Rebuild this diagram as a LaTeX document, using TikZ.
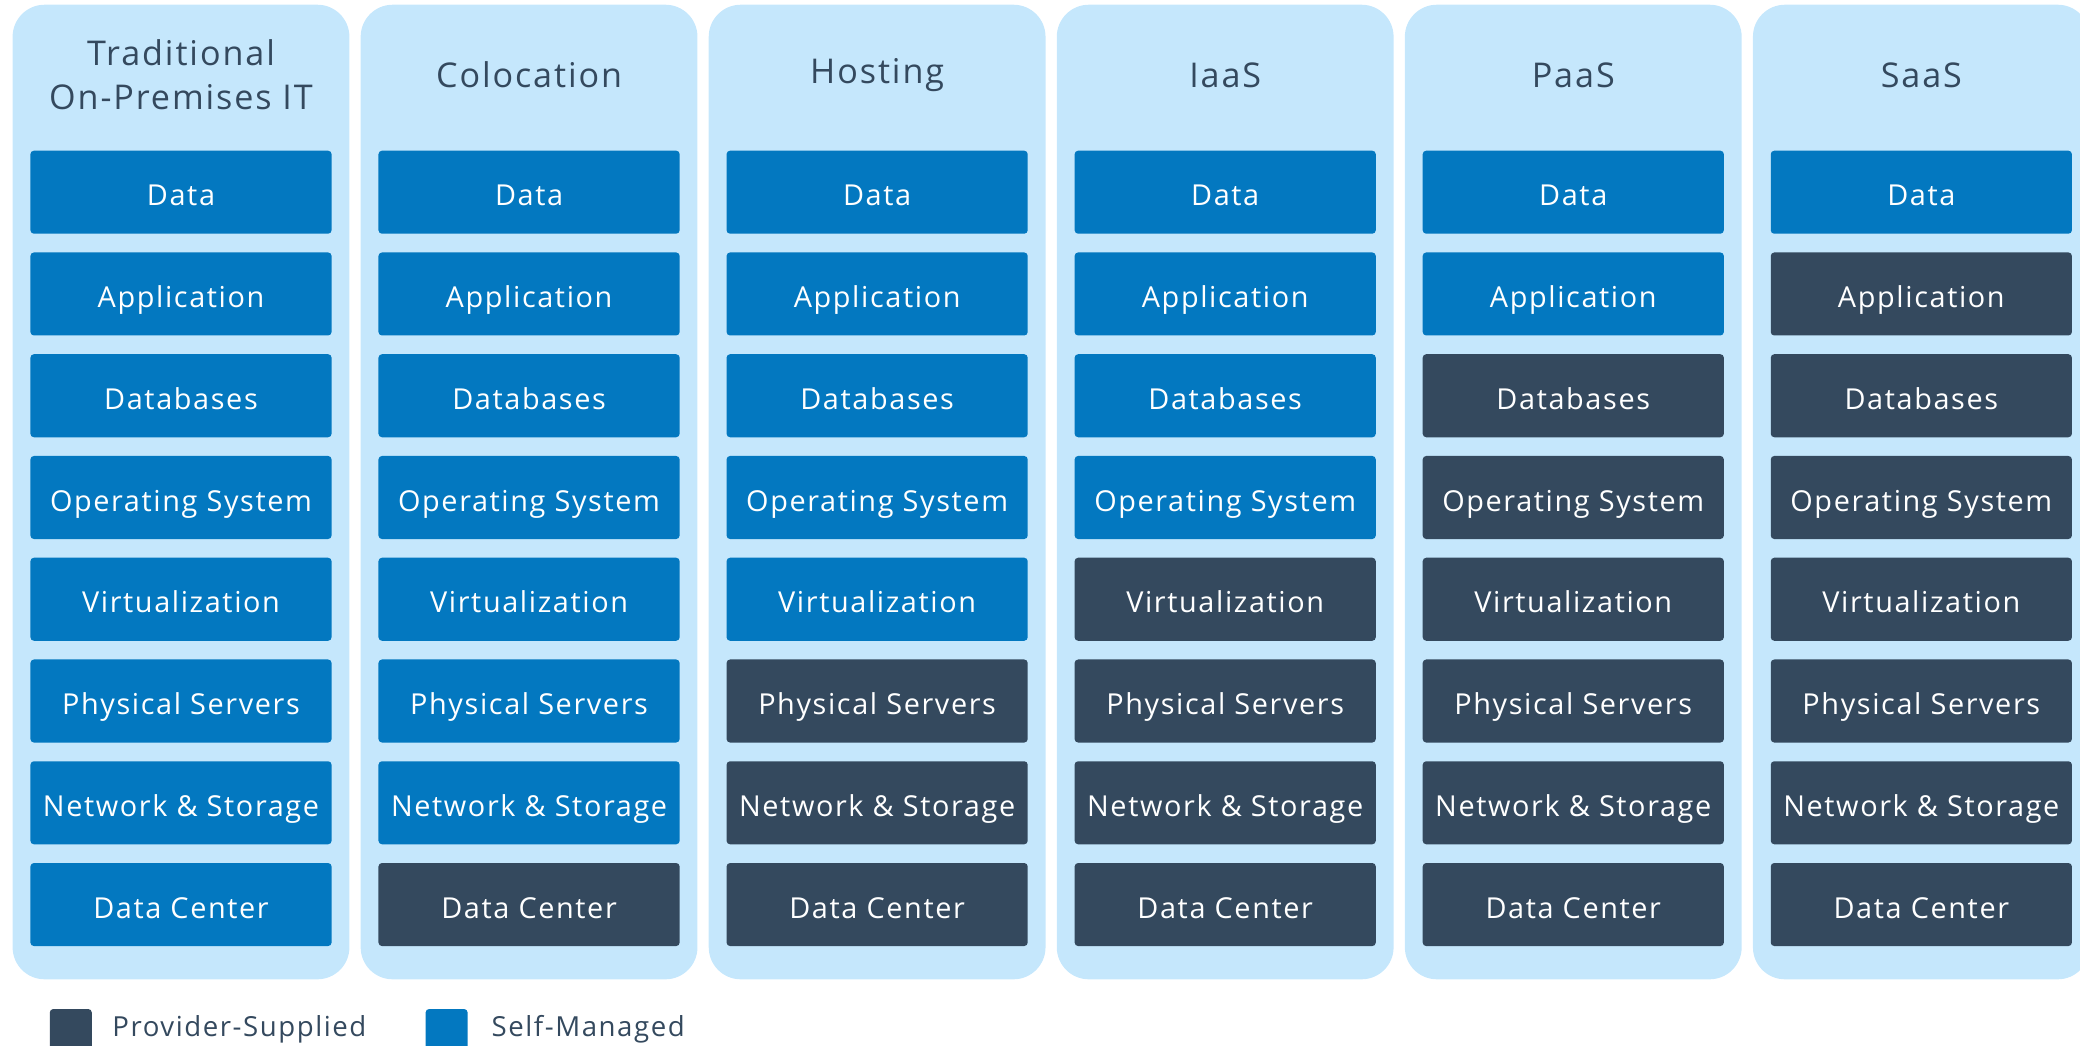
\documentclass[tikz,border=0pt]{standalone}
\usepackage{fontspec}
\setmainfont{Open Sans}[LetterSpace=5.6]
\usetikzlibrary{positioning}
\definecolor{wetasphalt}{RGB}{52, 73, 94}
\definecolor{oceanblue}{RGB}{3, 120, 192}
\definecolor{skyblue}{RGB}{197, 231, 252}

\begin{document}
\begin{tikzpicture}[x=0.01cm, y=-0.01cm,
    panel/.style={fill=skyblue, rounded corners=0.32cm, minimum width=3.366cm, minimum height=9.74cm, inner sep=0pt},
    layer/.style={rounded corners=1pt, minimum width=3.01cm, minimum height=0.83cm, inner sep=0pt,
                  text=white, text height=7.8pt, text depth=0pt, font=\fontsize{8.2}{9.8}\selectfont},
    selfbox/.style={layer, fill=oceanblue},
    providerbox/.style={layer, fill=wetasphalt},
    heading/.style={text=wetasphalt, align=center, font=\fontsize{9.7}{12.5}\selectfont},
    swatch/.style={rounded corners=1pt, minimum size=0.42cm, inner sep=0pt},
    legendtext/.style={text=wetasphalt, anchor=base west, inner sep=0pt, font=\fontsize{7.85}{9.4}\selectfont}]
            % Frame to fix the margins
            \useasboundingbox (0, 0) rectangle (2080, 1045);
            % Columns: heading / number of self-managed layers
            \foreach \name/\own [count=\i from 0] in {{Traditional\\On-Premises IT}/8, Colocation/7, Hosting/5, IaaS/4, PaaS/2, SaaS/1} {
                \node[panel]   (panel-\i) at (181 + 348.06*\i, 492) {};
                \node[heading] (title-\i) at (181 + 348.06*\i, 75) {\name};
                % Stack of layers, top to bottom
                \foreach \layer [count=\k from 1] in {Data, Application, Databases, Operating System, Virtualization, Physical Servers, Network \& Storage, Data Center} {
                    \ifnum\k>\own
                        \node[providerbox] (box-\i-\k) at (181 + 348.06*\i, 192.2 + 101.76*\k - 101.76) {\layer};
                    \else
                        \node[selfbox]     (box-\i-\k) at (181 + 348.06*\i, 192.2 + 101.76*\k - 101.76) {\layer};
                    \fi
                }
            }
            % Legend
            \node[swatch, fill=wetasphalt] (key-provider) at (70.8, 1030) {};
            \node[legendtext] (label-provider) at (111.7, 1036) {Provider-Supplied};
            \node[swatch, fill=oceanblue]  (key-self)     at (446.6, 1030) {};
            \node[legendtext] (label-self)     at (491, 1036) {Self-Managed};
        \end{tikzpicture}
\end{document}
